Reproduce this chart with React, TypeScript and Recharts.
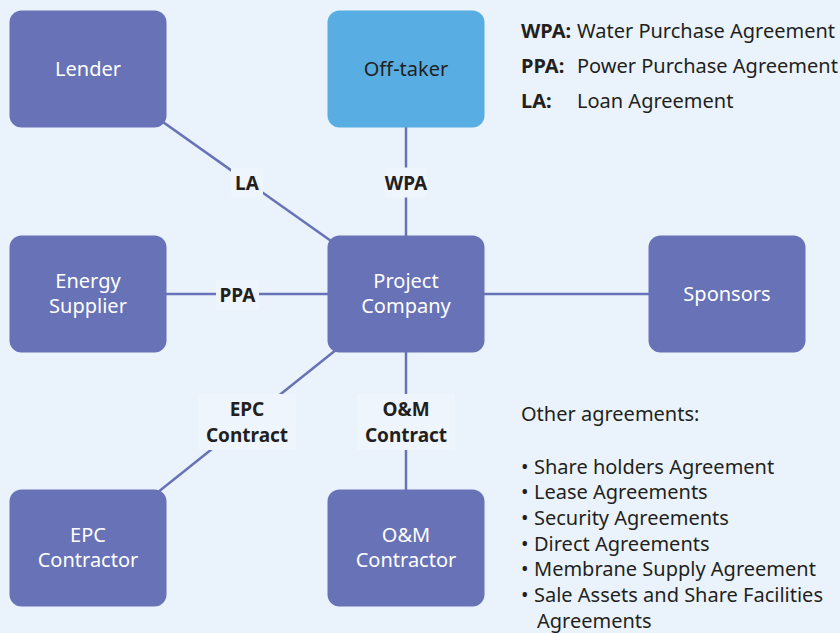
import React from 'react'
import { ScatterChart, Scatter, XAxis, YAxis } from 'recharts'

// parties in the deal (\n = line break in the box)
const nodeNames = [
  'Lender',
  'Off-taker',
  'Energy\nSupplier',
  'Project\nCompany',
  'Sponsors',
  'EPC\nContractor',
  'O&M\nContractor',
]
// position on the canvas grid (data units)
const nodeX = [88, 406, 88, 406, 727, 88, 406]
const nodeY = [69, 69, 294, 294, 294, 548, 548]
const nodeKind = ['party', 'offtaker', 'party', 'hub', 'party', 'party', 'party']

// contracts linking the parties
const edgeFrom = [0, 1, 2, 4, 5, 6]
const edgeTo = [3, 3, 3, 3, 3, 3]
const edgeLabel = ['LA', 'WPA', 'PPA', '', 'EPC\nContract', 'O&M\nContract']
const edgeLabelAt = [0.5, 0.5, 0.47, 0.5, 0.5, 0.5]

// abbreviations legend
const legendKeys = ['WPA:', 'PPA:', 'LA:']
const legendTexts = ['Water Purchase Agreement', 'Power Purchase Agreement', 'Loan Agreement']

const otherTitle = 'Other agreements:'
const otherItems = [
  'Share holders Agreement',
  'Lease Agreements',
  'Security Agreements',
  'Direct Agreements',
  'Membrane Supply Agreement',
  'Sale Assets and Share Facilities\nAgreements',
]

const W = 840
const H = 633
const BG = '#eaf3fb'
const PURPLE = '#6872b6'
const SKY = '#58aee2'
const INK = '#231f20'
const FONT = '"Noto Sans", "Open Sans", sans-serif'

const nodes = nodeNames.map((name, i) => ({ x: nodeX[i], y: nodeY[i], name, kind: nodeKind[i] }))

const edges = edgeFrom.map((f, i) => {
  const a = nodes[f]
  const b = nodes[edgeTo[i]]
  const t = edgeLabelAt[i]
  return {
    points: [a, b],
    label: { x: a.x + (b.x - a.x) * t, y: a.y + (b.y - a.y) * t + 1, text: edgeLabel[i] },
  }
})

const labels = edges.map((e) => e.label).filter((l) => l.text)

const NodeBox = (props: any) => {
  const { cx, cy, payload } = props
  const w = 157
  const h = 117
  const lines = payload.name.split('\n')
  const fill = payload.kind === 'offtaker' ? SKY : PURPLE
  const color = payload.kind === 'offtaker' ? INK : '#ffffff'
  const lh = 25
  return (
    <g>
      <rect x={cx - w / 2} y={cy - h / 2} width={w} height={h} rx={12} ry={12} fill={fill} />
      {lines.map((ln: string, j: number) => (
        <text
          key={j}
          x={cx}
          y={cy - 1 + (j - (lines.length - 1) / 2) * lh}
          textAnchor="middle"
          dominantBaseline="central"
          fill={color}
          fontSize={20}
          fontFamily={FONT}
        >
          {ln}
        </text>
      ))}
    </g>
  )
}

const EdgeLabel = (props: any) => {
  const { cx, cy, payload } = props
  const lines = payload.text.split('\n')
  const lh = 26
  const longest = Math.max(...lines.map((l: string) => l.length))
  const w = longest * 11 + 10
  const h = lines.length * lh + 4
  return (
    <g>
      <rect x={cx - w / 2} y={cy - h / 2} width={w} height={h} fill="#eef5fc" />
      {lines.map((ln: string, j: number) => (
        <text
          key={j}
          x={cx}
          y={cy + (j - (lines.length - 1) / 2) * lh}
          textAnchor="middle"
          dominantBaseline="central"
          fill={INK}
          fontSize={19}
          fontWeight={700}
          fontFamily={FONT}
        >
          {ln}
        </text>
      ))}
    </g>
  )
}

const NoShape = () => <g />

const LegendBlock = (props: any) => {
  const { cx, cy } = props
  return (
    <g fontFamily={FONT} fontSize={20} fill={INK}>
      {legendKeys.map((k, i) => (
        <g key={k}>
          <text x={cx} y={cy + i * 35} dominantBaseline="central" fontWeight={700}>
            {k}
          </text>
          <text x={cx + 56} y={cy + i * 35} dominantBaseline="central">
            {legendTexts[i]}
          </text>
        </g>
      ))}
    </g>
  )
}

const OtherBlock = (props: any) => {
  const { cx, cy } = props
  const rows: { bullet: boolean; text: string }[] = []
  otherItems.forEach((it) => {
    it.split('\n').forEach((ln, j) => rows.push({ bullet: j === 0, text: ln }))
  })
  return (
    <g fontFamily={FONT} fontSize={20} fill={INK}>
      <text x={cx} y={cy} dominantBaseline="central">
        {otherTitle}
      </text>
      {rows.map((r, i) => (
        <g key={i}>
          {r.bullet && (
            <text x={cx} y={cy + 53 + i * 25.7} dominantBaseline="central">
              •
            </text>
          )}
          <text x={cx + (r.bullet ? 13 : 16)} y={cy + 53 + i * 25.7} dominantBaseline="central">
            {r.text}
          </text>
        </g>
      ))}
    </g>
  )
}

export default function App() {
  return (
    <div style={{ position: 'absolute', left: 0, top: 0, width: W, height: H, background: BG }}>
      <ScatterChart width={W} height={H} margin={{ top: 0, right: 0, bottom: 0, left: 0 }}>
        <XAxis type="number" dataKey="x" domain={[0, W]} hide />
        <YAxis type="number" dataKey="y" domain={[0, H]} reversed hide />
        {edges.map((e, i) => (
          <Scatter
            key={'e' + i}
            data={e.points}
            line={{ stroke: PURPLE, strokeWidth: 2.5 }}
            shape={NoShape}
            isAnimationActive={false}
          />
        ))}
        <Scatter data={labels} shape={EdgeLabel} isAnimationActive={false} />
        <Scatter data={nodes} shape={NodeBox} isAnimationActive={false} />
        <Scatter data={[{ x: 521, y: 30 }]} shape={LegendBlock} isAnimationActive={false} />
        <Scatter data={[{ x: 521, y: 413 }]} shape={OtherBlock} isAnimationActive={false} />
      </ScatterChart>
    </div>
  )
}
